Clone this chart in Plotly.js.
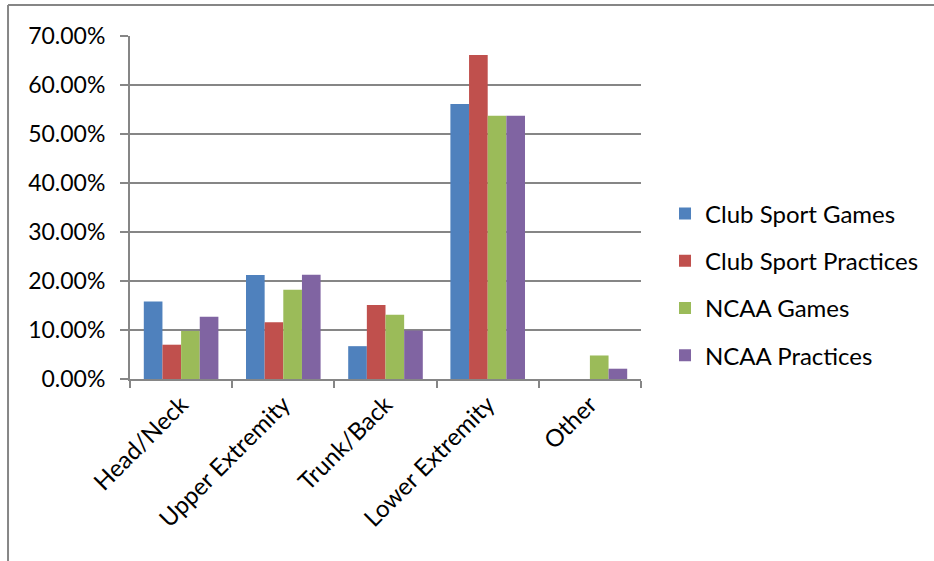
<!DOCTYPE html>
<html>
<head>
<meta charset="utf-8">
<script src="https://cdn.plot.ly/plotly-3.0.1.min.js"></script>
<style>html,body{margin:0;padding:0;background:#fff;}#chart{width:934px;height:561px;}</style>
</head>
<body>
<div id="chart"></div>
<script>
var categories = ["Head/Neck", "Upper Extremity", "Trunk/Back", "Lower Extremity", "Other"];
var seriesNames = ["Club Sport Games", "Club Sport Practices", "NCAA Games", "NCAA Practices"];
var clubGames = [0.158, 0.212, 0.067, 0.561, null];
var clubPractices = [0.070, 0.116, 0.151, 0.661, null];
var ncaaGames = [0.098, 0.182, 0.131, 0.537, 0.048];
var ncaaPractices = [0.127, 0.213, 0.099, 0.537, 0.021];
var colors = ["#4F81BD", "#C0504D", "#9BBB59", "#8064A2"];

var values = [clubGames, clubPractices, ncaaGames, ncaaPractices];
var font = "Lato, 'Open Sans', sans-serif";
var traces = values.map(function (v, i) {
  return {
    type: "bar",
    name: seriesNames[i],
    x: categories,
    y: v,
    marker: {color: colors[i]},
    legendgroup: "g" + i,
    hoverinfo: "x+y+name"
  };
});

var layout = {
  width: 934,
  height: 561,
  margin: {l: 130, r: 293, t: 36, b: 182},
  paper_bgcolor: "#ffffff",
  plot_bgcolor: "#ffffff",
  barmode: "group",
  bargap: 0.27,
  bargroupgap: 0,
  font: {family: font, size: 22, color: "#000000"},
  showlegend: true,
  legend: {
    xref: "container", yref: "container",
    x: 0.712, y: 0.493, xanchor: "left", yanchor: "middle",
    font: {family: font, size: 24, color: "#000000"},
    tracegroupgap: 13,
    bgcolor: "rgba(0,0,0,0)"
  },
  xaxis: {
    type: "category",
    showline: true,
    linecolor: "#868686",
    linewidth: 2,
    ticks: "outside",
    tickson: "boundaries",
    ticklen: 7,
    tickcolor: "#868686",
    tickwidth: 2,
    tickangle: -45,
    tickfont: {family: font, size: 24, color: "#000000"},
    showgrid: false,
    zeroline: false
  },
  yaxis: {
    range: [0, 0.7],
    dtick: 0.1,
    tick0: 0,
    tickformat: ".2%",
    showline: true,
    linecolor: "#868686",
    linewidth: 2,
    ticks: "outside",
    ticklen: 8,
    tickcolor: "#868686",
    tickwidth: 2,
    ticklabelstandoff: 10,
    showgrid: true,
    gridcolor: "#868686",
    gridwidth: 2,
    zeroline: false,
    tickfont: {family: font, size: 23, color: "#000000"}
  },
  shapes: [
    {type: "line", xref: "paper", yref: "paper", x0: -0.2387, x1: -0.2387, y0: 1.0904, y1: -1, line: {color: "#868686", width: 2}},
    {type: "line", xref: "paper", yref: "paper", x0: -0.2387, x1: 2, y0: 1.0904, y1: 1.0904, line: {color: "#868686", width: 2}}
  ]
};

Plotly.newPlot("chart", traces, layout, {displayModeBar: false, staticPlot: true});
</script>
</body>
</html>
